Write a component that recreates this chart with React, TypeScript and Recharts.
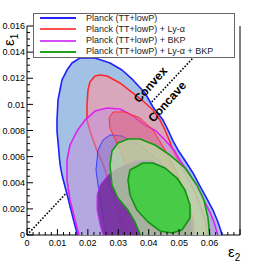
import {
  Legend,
  ReferenceDot,
  ReferenceLine,
  Scatter,
  ScatterChart,
  XAxis,
  YAxis,
} from "recharts"

const FONT = '"Liberation Sans", Arial, Helvetica, sans-serif'

// contour outlines, [eps2, eps1]; bottom points dip under 0 and get clipped
const blue95: [number, number][] = [
  [0.0169, -0.0003], [0.01512, 0.0013], [0.01347, 0.00283], [0.0115, 0.00459],
  [0.01084, 0.00544], [0.00986, 0.00796], [0.00986, 0.0088], [0.01019, 0.01034],
  [0.01084, 0.0111], [0.0115, 0.01187], [0.01314, 0.01263], [0.01479, 0.01317],
  [0.01742, 0.01355], [0.02234, 0.01355], [0.02727, 0.01317], [0.03122, 0.01263],
  [0.03483, 0.01187], [0.03877, 0.01087], [0.0414, 0.0098], [0.04469, 0.0088],
  [0.04633, 0.00804], [0.04798, 0.0072], [0.04962, 0.00651], [0.05225, 0.00559],
  [0.05455, 0.00475], [0.05685, 0.00375], [0.05915, 0.00276], [0.06112, 0.00191],
  [0.06276, 0.001], [0.0646, -0.0003],
]

const blue68: [number, number][] = [
  [0.02629, -0.0003], [0.0253, 0.001], [0.02432, 0.0023], [0.02333, 0.00383],
  [0.02267, 0.00498], [0.02333, 0.00651], [0.02497, 0.00727], [0.02727, 0.00766],
  [0.03122, 0.00758], [0.03713, 0.00689], [0.0437, 0.00559], [0.04962, 0.00383],
  [0.05356, 0.00191], [0.0552, -0.0003],
]

const red95: [number, number][] = [
  [0.0322, -0.0003], [0.02892, 0.00268], [0.02497, 0.00544], [0.023, 0.00643],
  [0.0207, 0.00796], [0.01972, 0.0088], [0.01972, 0.00995], [0.02004, 0.0111],
  [0.0207, 0.01171], [0.02234, 0.01217], [0.02399, 0.01225], [0.02629, 0.01217],
  [0.03056, 0.01164], [0.03483, 0.01087], [0.03812, 0.01026], [0.0414, 0.00957],
  [0.0437, 0.0088], [0.04535, 0.00804], [0.04699, 0.00712], [0.04798, 0.00651],
  [0.04995, 0.00559], [0.05225, 0.00459], [0.05488, 0.00345], [0.05685, 0.0023],
  [0.05849, 0.00115], [0.05948, -0.0003],
]

const red68: [number, number][] = [
  [0.02695, 0.00896], [0.02826, 0.00942], [0.0322, 0.00942], [0.03713, 0.00896],
  [0.0414, 0.00804], [0.04535, 0.00651], [0.04962, 0.00459], [0.05356, 0.0023],
  [0.05488, 0.00077], [0.05455, -0.0003], [0.04765, -0.0003], [0.0437, 0.001],
  [0.03877, 0.00268], [0.03385, 0.00459], [0.03056, 0.00651], [0.02727, 0.00819],
]

const magenta95: [number, number][] = [
  [0.01742, -0.0003], [0.01577, 0.00115], [0.01413, 0.00268], [0.01314, 0.00421],
  [0.01314, 0.00574], [0.01413, 0.00689], [0.01643, 0.00796], [0.01906, 0.0088],
  [0.02234, 0.00949], [0.02629, 0.00972], [0.03056, 0.00965], [0.03483, 0.00911],
  [0.03877, 0.00842], [0.04239, 0.00796], [0.04535, 0.00727], [0.0483, 0.00651],
  [0.0506, 0.00559], [0.05323, 0.00475], [0.05553, 0.00375], [0.05783, 0.00276],
  [0.0598, 0.00191], [0.06145, 0.001], [0.06309, -0.0003],
]

const magenta68: [number, number][] = [
  [0.0253, -0.0003], [0.02399, 0.00077], [0.023, 0.00191], [0.023, 0.00306],
  [0.02399, 0.00383], [0.02662, 0.00459], [0.0299, 0.00513], [0.03549, 0.00567],
  [0.04042, 0.00574], [0.04535, 0.00521], [0.05028, 0.00398], [0.05356, 0.00207],
  [0.05455, -0.0003],
]

const green95: [number, number][] = [
  [0.03779, -0.0003], [0.03549, 0.001], [0.03319, 0.00191], [0.0299, 0.00283],
  [0.02793, 0.00383], [0.02727, 0.00536], [0.02793, 0.00643], [0.0299, 0.00704],
  [0.03319, 0.00735], [0.03713, 0.00735], [0.04206, 0.00689], [0.04699, 0.00612],
  [0.05192, 0.00513], [0.05586, 0.00383], [0.05816, 0.00268], [0.05948, 0.0013],
  [0.06013, -0.0003],
]

const green68: [number, number][] = [
  [0.03812, 0.00551], [0.03385, 0.00498], [0.03319, 0.00421], [0.03385, 0.00306],
  [0.03615, 0.00191], [0.03976, 0.001], [0.0437, 0.00031], [0.04765, 0.00015],
  [0.05093, 0.00038], [0.05356, 0.0013], [0.05356, 0.0023], [0.05192, 0.00345],
  [0.04929, 0.00436], [0.04535, 0.00513], [0.0414, 0.00551],
]

const legendNames = [
  "Planck (TT+lowP)",
  "Planck (TT+lowP) + Ly-\u03b1",
  "Planck (TT+lowP) + BKP",
  "Planck (TT+lowP) + Ly-\u03b1 + BKP",
]
const legendColors = ["#2424ff", "#ff4f4f", "#d84cff", "#1fa01f"]

// dotted boundary between convex and concave potentials
const diagonal = [
  { x: 0, y: 0 },
  { x: 0.0644, y: 0.016 },
]

const xTicks = Array.from({ length: 36 }, (_, i) => +(i * 0.002).toFixed(3))
const yTicks = Array.from({ length: 33 }, (_, i) => +(i * 0.0005).toFixed(4))

const layers = [
  { key: "b95", data: blue95, fill: "#a2c1e4", op: 1, stroke: "#1f1fff", w: 1.6 },
  { key: "r95", data: red95, fill: "#fc96a0", op: 0.6, stroke: "#ff2828", w: 1.6 },
  { key: "m95", data: magenta95, fill: "#c490dc", op: 0.5, stroke: "#e020f0", w: 1.6 },
  { key: "b68", data: blue68, fill: "#5a66d8", op: 0.35, stroke: "#3c3cff", w: 1 },
  { key: "r68", data: red68, fill: "#e0607c", op: 0.55, stroke: "#ff3030", w: 1 },
  { key: "m68", data: magenta68, fill: "#74289a", op: 0.85, stroke: "#d030ff", w: 1 },
  { key: "g95", data: green95, fill: "#b8e0a0", op: 0.72, stroke: "#129a12", w: 1.6 },
  { key: "g68", data: green68, fill: "#48cc48", op: 1, stroke: "#129012", w: 1.6 },
]

const toPts = (a: [number, number][]) => a.map(([x, y]) => ({ x, y }))
const isMajor = (v: number, step: number) => Math.abs(v / step - Math.round(v / step)) < 1e-6
const noShape = () => <g />

const XTick = (props: any) => {
  const { x, y, payload } = props
  const v = payload.value
  const major = isMajor(v, 0.01)
  return (
    <g>
      <line x1={x} x2={x} y1={y} y2={y - (major ? 6 : 3)} stroke="#000" />
      {major && v < 0.065 && (
        <text x={x} y={y + 10.5} textAnchor="middle" fontSize={9} fontFamily={FONT} fill="#000">
          {v === 0 ? "0" : String(+v.toFixed(2))}
        </text>
      )}
    </g>
  )
}

const YTick = (props: any) => {
  const { x, y, payload } = props
  const v = payload.value
  const major = isMajor(v, 0.002)
  return (
    <g>
      <line x1={x} x2={x + (major ? 6 : 3)} y1={y} y2={y} stroke="#000" />
      {major && (
        <text x={x - 2} y={y + 3.2} textAnchor="end" fontSize={9} fontFamily={FONT} fill="#000">
          {v === 0 ? "0" : String(+v.toFixed(3))}
        </text>
      )}
    </g>
  )
}

const RightTick = (props: any) => {
  const { x, y, payload } = props
  const major = isMajor(payload.value, 0.002)
  return <line x1={x} x2={x - (major ? 6 : 3)} y1={y} y2={y} stroke="#000" />
}

const EpsX = (props: any) => {
  const vb = props.viewBox
  return (
    <text x={vb.x + vb.width - 12} y={vb.y + 22} fontSize={15} fontFamily={FONT} fill="#000">
      {"\u03b5"}
      <tspan dy={4} fontSize={10}>2</tspan>
    </text>
  )
}

const EpsY = (props: any) => {
  const vb = props.viewBox
  return (
    <text
      x={-(vb.y + 20)}
      y={vb.x + 14}
      transform="rotate(-90)"
      fontSize={15}
      fontFamily={FONT}
      fill="#000"
    >
      {"\u03b5"}
      <tspan dy={4} fontSize={10}>1</tspan>
    </text>
  )
}

const RotText = (props: any) => {
  const vb = props.viewBox
  const cx = vb.x + vb.width / 2
  const cy = vb.y + vb.height / 2
  return (
    <text
      x={cx}
      y={cy}
      transform={`rotate(-48 ${cx} ${cy})`}
      textAnchor="middle"
      dominantBaseline="central"
      fontSize={12}
      fontWeight="bold"
      fontFamily={FONT}
      fill="#000"
    >
      {props.text}
    </text>
  )
}

const LegendBox = () => (
  <div
    style={{
      position: "relative",
      width: 202,
      height: 45,
      boxSizing: "border-box",
      border: "1px solid #666",
      background: "#fff",
      fontFamily: FONT,
      fontSize: 9,
      color: "#222",
    }}
  >
    {legendNames.map((name, i) => (
      <div
        key={name}
        style={{ position: "absolute", left: 0, top: -1.2 + 11.1 * i, height: 11, width: "100%", lineHeight: "11px" }}
      >
        <span
          style={{ position: "absolute", left: 6, top: 4.5, width: 36, height: 2, background: legendColors[i] }}
        />
        <span style={{ position: "absolute", left: 52, top: 0, whiteSpace: "nowrap" }}>{name}</span>
      </div>
    ))}
  </div>
)

export default function App() {
  return (
    <div style={{ position: "absolute", left: 0, top: 0, width: 273, height: 263, background: "#fff" }}>
      <ScatterChart width={273} height={263} margin={{ top: 26, right: 0, bottom: 0, left: 0 }}>
        <XAxis
          type="number"
          dataKey="x"
          domain={[0, 0.07]}
          ticks={xTicks}
          interval={0}
          height={28}
          tickSize={0}
          tickMargin={0}
          tickLine={false}
          tick={<XTick />}
          axisLine={{ stroke: "#000" }}
          label={<EpsX />}
        />
        <XAxis xAxisId="top" orientation="top" type="number" domain={[0, 0.07]} height={0} tick={false} tickLine={false} axisLine={{ stroke: "#000" }} />
        <YAxis
          type="number"
          dataKey="y"
          domain={[0, 0.016]}
          allowDataOverflow
          ticks={yTicks}
          interval={0}
          width={27}
          tickSize={0}
          tickMargin={0}
          tickLine={false}
          tick={<YTick />}
          axisLine={{ stroke: "#000" }}
          label={<EpsY />}
        />
        <YAxis
          yAxisId="right"
          orientation="right"
          type="number"
          domain={[0, 0.016]}
          ticks={yTicks}
          interval={0}
          width={33}
          tickSize={0}
          tickMargin={0}
          tickLine={false}
          tick={<RightTick />}
          axisLine={{ stroke: "#000" }}
        />
        {layers.map((l) => (
          <Scatter
            key={l.key}
            data={toPts(l.data)}
            shape={noShape}
            line={{ fill: l.fill, fillOpacity: l.op, stroke: l.stroke, strokeWidth: l.w, strokeLinejoin: "round" }}
            lineJointType="linearClosed"
            legendType="none"
            isAnimationActive={false}
          />
        ))}
        <ReferenceLine segment={diagonal} stroke="#000" strokeWidth={1.6} strokeDasharray="1.6 1.6" />
        <ReferenceDot x={0.0406} y={0.0115} r={0} fill="none" stroke="none" label={<RotText text="Convex" />} />
        <ReferenceDot x={0.0461} y={0.0102} r={0} fill="none" stroke="none" label={<RotText text="Concave" />} />
        <Legend
          layout="vertical"
          align="center"
          verticalAlign="middle"
          content={() => <LegendBox />}
          wrapperStyle={{ left: 33, top: 13, width: 202, height: 45 }}
        />
      </ScatterChart>
    </div>
  )
}
